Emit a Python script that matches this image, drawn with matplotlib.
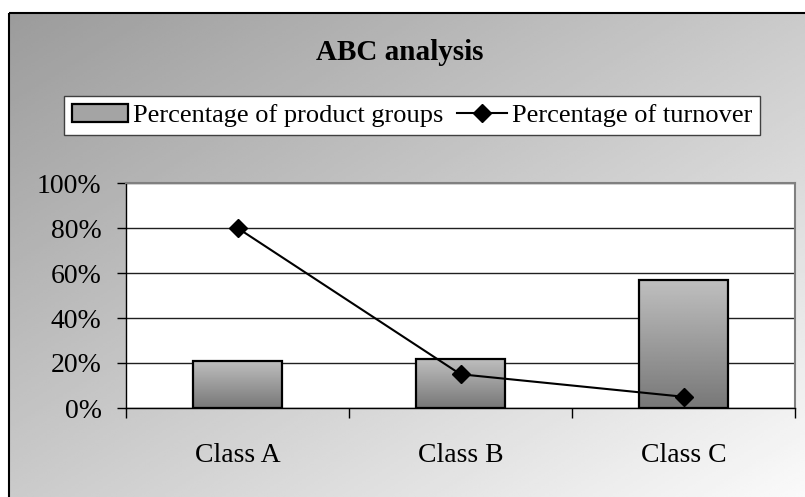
import numpy as np
import matplotlib.pyplot as plt
from matplotlib.ticker import PercentFormatter
from matplotlib.patches import Rectangle
from matplotlib.legend_handler import HandlerLine2D

plt.rcParams['font.family'] = ['Liberation Serif', 'DejaVu Serif']

classes = ['Class A', 'Class B', 'Class C']
product_groups = [0.21, 0.22, 0.57]
turnover = [0.80, 0.15, 0.05]
y_ticks = [0, 0.2, 0.4, 0.6, 0.8, 1.0]


class ShortLine(HandlerLine2D):
    # line key drawn a bit shorter than the box key, flush against its label
    def create_artists(self, legend, orig_handle, xdescent, ydescent,
                       width, height, fontsize, trans):
        short = width * 50 / 56
        return super().create_artists(legend, orig_handle, xdescent - (width - short),
                                      ydescent, short, height, fontsize, trans)


W, H = 805, 497
fig = plt.figure(figsize=(W / 100, H / 100), dpi=100)

# chart area background: diagonal grey -> white fade with a black frame
bg = fig.add_axes([0, 0, 1, 1], zorder=-10)
bg.set_xlim(0, W)
bg.set_ylim(H, 0)
bg.axis('off')
xx, yy = np.meshgrid(np.linspace(0, 1, 200), np.linspace(0, 1, 200))
shade = 0.61 + 0.37 * (xx + yy) / 2
bg.imshow(shade, cmap='gray', vmin=0, vmax=1, extent=(9, W, H, 13),
          aspect='auto', interpolation='bilinear')
bg.add_patch(Rectangle((9, 13), W, H, fill=False, edgecolor='black', lw=1.5))

ax = fig.add_axes([126 / W, 1 - 408 / H, 669 / W, 225 / H])
ax.set_facecolor('white')
x = np.arange(len(classes))

bars = ax.bar(x, product_groups, width=0.4, facecolor='none',
              edgecolor='black', lw=1.6, zorder=3)
grad = np.linspace(0.75, 0.47, 100).reshape(-1, 1)
for b in bars:
    x0, w, h = b.get_x(), b.get_width(), b.get_height()
    im = ax.imshow(grad, cmap='gray', vmin=0, vmax=1, extent=(x0, x0 + w, 0, h),
                   aspect='auto', origin='upper', zorder=2, interpolation='bilinear')
    im.set_clip_path(b)

line, = ax.plot(x, turnover, color='black', lw=1.5, marker='D', markersize=9, zorder=4)

ax.set_xlim(-0.5, 2.5)
ax.set_ylim(0, 1)

ax.set_xticks([-0.5, 0.5, 1.5, 2.5])
ax.set_xticklabels([])
ax.set_xticks(x, minor=True)
ax.set_xticklabels(classes, minor=True)
ax.tick_params(axis='x', which='major', length=7.5, width=1, direction='out')
ax.tick_params(axis='x', which='minor', length=0, pad=25, labelsize=20)

ax.set_yticks(y_ticks)
ax.yaxis.set_major_formatter(PercentFormatter(1.0, decimals=0))
ax.tick_params(axis='y', length=6.5, width=1, pad=11, labelsize=20)

ax.yaxis.grid(True, color='#202020', lw=1)
ax.set_axisbelow(True)

for side in ['left', 'bottom']:
    ax.spines[side].set_color('black')
    ax.spines[side].set_linewidth(1)
for side in ['top', 'right']:
    ax.spines[side].set_color('#808080')
    ax.spines[side].set_linewidth(1.5)

bar_handle = Rectangle((0, 0), 1, 1, facecolor='#a4a4a4', edgecolor='black', lw=1.6)
leg = fig.legend([bar_handle, line], ['Percentage of product groups', 'Percentage of turnover'],
                 loc='center', bbox_to_anchor=(412 / W, 1 - 115.5 / H), ncol=2,
                 frameon=True, fancybox=False, edgecolor='#404040', framealpha=1,
                 fontsize=19, handlelength=2.12, columnspacing=0.3,
                 handletextpad=0.19, borderpad=0.3, borderaxespad=0,
                 handler_map={type(line): ShortLine()})
leg.get_frame().set_linewidth(1)

fig.text(400 / W, 1 - 60 / H, 'ABC analysis', ha='center', va='baseline',
         fontsize=21, fontweight='bold')

fig.savefig('out.png', dpi=100)
